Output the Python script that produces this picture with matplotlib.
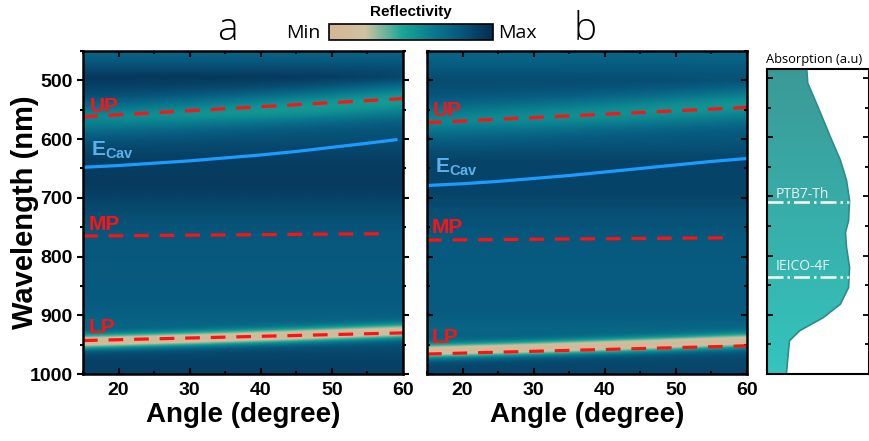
import numpy as np
import matplotlib
matplotlib.use("Agg")
import matplotlib.pyplot as plt
from matplotlib.colors import LinearSegmentedColormap
from matplotlib.patches import Polygon
from matplotlib.ticker import MultipleLocator

plt.rcParams['font.family'] = ['Liberation Sans', 'DejaVu Sans']
plt.rcParams['mathtext.fontset'] = 'custom'
plt.rcParams['mathtext.rm'] = 'Liberation Sans'
plt.rcParams['mathtext.bf'] = 'Liberation Sans:bold'

# reflectivity colour scale (Min -> Max)
cmap = LinearSegmentedColormap.from_list("refl", [
	(0.00, "#d4b694"),
	(0.22, "#cfc2a2"),
	(0.45, "#17a695"),
	(0.62, "#0a7d8f"),
	(0.78, "#075b80"),
	(1.00, "#062c50"),
])

# ---------------- data ----------------
BAND_ANGLES = [15, 30, 45, 60]

# panel a: background reflectivity vs wavelength
BG_WL_A = [450, 470, 495, 520, 560, 600, 640, 680, 720, 760, 800, 880, 915, 960, 980, 1000]
BG_A = [0.72, 0.80, 0.94, 0.88, 0.80, 0.84, 0.92, 0.93, 0.86, 0.80, 0.79, 0.78, 0.74, 0.86, 0.90, 0.90]
UP_BAND_A = [566, 556, 545, 532]
UP_DEPTH_A = [0.22, 0.27, 0.32, 0.36]
LP_BAND_A = [946, 941, 935, 928]
LP_DEPTH_A = [0.74, 0.73, 0.71, 0.66]

# panel b
BG_WL_B = [450, 470, 500, 530, 570, 610, 640, 690, 730, 770, 820, 890, 925, 975, 990, 1000]
BG_B = [0.72, 0.76, 0.85, 0.82, 0.78, 0.82, 0.89, 0.89, 0.83, 0.79, 0.78, 0.78, 0.73, 0.86, 0.88, 0.88]
UP_BAND_B = [570, 562, 552, 541]
UP_DEPTH_B = [0.20, 0.23, 0.26, 0.29]
LP_BAND_B = [962, 957, 951, 944]
LP_DEPTH_B = [0.74, 0.73, 0.72, 0.68]

# polariton / cavity dispersions
UP_A_ANG, UP_A_WL = [15, 60], [562, 531]
MP_A_ANG, MP_A_WL = [15, 58], [765, 761]
LP_A_ANG, LP_A_WL = [15, 60], [943, 930]
ECAV_A_ANG = [15, 20, 25, 30, 35, 40, 45, 50, 55, 59]
ECAV_A_WL = [648, 645, 641, 637, 632, 627, 621, 614, 607, 601]

UP_B_ANG, UP_B_WL = [15, 60], [572, 546]
MP_B_ANG, MP_B_WL = [15, 58], [772, 768]
LP_B_ANG, LP_B_WL = [15, 60], [966, 952]
ECAV_B_ANG = [15, 20, 25, 30, 35, 40, 45, 50, 55, 60]
ECAV_B_WL = [679, 676, 672, 667, 662, 656, 650, 644, 638, 633]

# absorption spectrum of the blend
ABS_WL = [485, 509, 549, 599, 639, 673, 707, 741, 761, 786, 820, 854, 882, 905, 927, 944, 1000]
ABS_VAL = [0.39, 0.40, 0.50, 0.62, 0.72, 0.78, 0.81, 0.80, 0.77, 0.78, 0.81, 0.80, 0.72, 0.55, 0.32, 0.22, 0.19]
PTB7_WL = 710
IEICO_WL = 836


def refl_map(bg_wl, bg, up_c, up_d, lp_c, lp_d):
	ang = np.linspace(15, 60, 91)
	wl = np.linspace(450, 1000, 551)
	A, W = np.meshgrid(ang, wl)
	Z = np.interp(W, bg_wl, bg)
	for c, d, w in [(up_c, up_d, 29.0), (lp_c, lp_d, 12.5)]:
		cc = np.interp(A, BAND_ANGLES, c)
		dd = np.interp(A, BAND_ANGLES, d)
		Z = Z - dd * np.exp(-((W - cc) / w) ** 2)
	return ang, wl, np.clip(Z, 0, 1)


fig = plt.figure(figsize=(8.7, 4.41), dpi=100)

RED = "#ff1212"
BLUE = "#1b9cff"
LBLUE = "#5cb2ec"
dash = dict(color=RED, lw=2.3, dashes=(4.6, 3.4))

panels = [
	([0.0954, 0.1519, 0.3678, 0.7324], (BG_WL_A, BG_A, UP_BAND_A, UP_DEPTH_A, LP_BAND_A, LP_DEPTH_A),
	 (UP_A_ANG, UP_A_WL), (MP_A_ANG, MP_A_WL), (LP_A_ANG, LP_A_WL), (ECAV_A_ANG, ECAV_A_WL),
	 [(16.0, 553, "UP"), (16.1, 628, None), (15.8, 755, "MP"), (15.8, 931, "LP")], True),
	([0.4908, 0.1519, 0.3678, 0.7324], (BG_WL_B, BG_B, UP_BAND_B, UP_DEPTH_B, LP_BAND_B, LP_DEPTH_B),
	 (UP_B_ANG, UP_B_WL), (MP_B_ANG, MP_B_WL), (LP_B_ANG, LP_B_WL), (ECAV_B_ANG, ECAV_B_WL),
	 [(15.85, 560, "UP"), (16.1, 656, None), (15.7, 760, "MP"), (15.7, 947, "LP")], False),
]

for rect, mapdata, up, mp, lp, ecav, labels, first in panels:
	ax = fig.add_axes(rect)
	ang, wl, Z = refl_map(*mapdata)
	ax.pcolormesh(ang, wl, Z, cmap=cmap, vmin=0, vmax=1, shading="gouraud", rasterized=True)
	ax.plot(*up, **dash)
	ax.plot(*mp, **dash)
	ax.plot(*lp, **dash)
	ax.plot(*ecav, color=BLUE, lw=2.3)
	for x, y, s in labels:
		if s is None:
			ax.text(x, y, r"$\mathbf{E}_{\mathbf{Cav}}$", color=LBLUE, fontsize=15, ha="left", va="baseline")
		else:
			ax.text(x, y, s, color=RED, fontsize=15, fontweight="bold", ha="left", va="baseline")
	ax.set_xlim(15, 60)
	ax.set_ylim(1000, 450)
	ax.xaxis.set_major_locator(MultipleLocator(10))
	ax.xaxis.set_minor_locator(MultipleLocator(5))
	ax.yaxis.set_major_locator(MultipleLocator(100))
	ax.yaxis.set_minor_locator(MultipleLocator(50))
	ax.tick_params(which="both", top=True, right=True, direction="in", width=1.5)
	ax.tick_params(which="major", length=4.5)
	ax.tick_params(which="minor", length=2.5)
	ax.tick_params(axis="x", labelsize=14, pad=6)
	for t in ax.get_xticklabels():
		t.set_fontweight("bold")
	if first:
		ax.tick_params(axis="y", which="both", left=True, direction="out", labelsize=14, pad=3)
		ax.tick_params(axis="y", which="both", right=True)
		for t in ax.get_yticklabels():
			t.set_fontweight("bold")
		ax.set_ylabel("Wavelength (nm)", fontsize=21, fontweight="bold")
		ax.yaxis.set_label_coords(-0.137, 0.5)
	else:
		ax.set_yticklabels([])
	ax.set_xlabel("Angle (degree)", fontsize=20, fontweight="bold", labelpad=2)
	for s in ax.spines.values():
		s.set_linewidth(1.8)

# absorption panel
ax3 = fig.add_axes([0.8816, 0.1519, 0.1172, 0.6916])
ax3.set_xlim(0, 1)
ax3.set_ylim(1000, 485)
verts = [(0, ABS_WL[0])] + list(zip(ABS_VAL, ABS_WL)) + [(0, ABS_WL[-1])]
poly = Polygon(verts, closed=True, facecolor="none", edgecolor="none")
ax3.add_patch(poly)
grad = LinearSegmentedColormap.from_list("absfill", ["#3b9a97", "#34c4be"])
im = ax3.imshow(np.linspace(0, 1, 100).reshape(-1, 1), cmap=grad, aspect="auto",
				extent=(0, 1, 1000, 485), origin="upper")
im.set_clip_path(poly)
ax3.plot(ABS_VAL, ABS_WL, color="#2a8d89", lw=1.2)
line_end_ptb = np.interp(PTB7_WL, ABS_WL, ABS_VAL)
line_end_iei = np.interp(IEICO_WL, ABS_WL, ABS_VAL)
ax3.plot([0, line_end_ptb], [PTB7_WL, PTB7_WL], color="white", lw=1.8, ls="-.")
ax3.plot([0, line_end_iei], [IEICO_WL, IEICO_WL], color="white", lw=1.8, ls="-.")
ax3.text(0.08, PTB7_WL - 8, "PTB7-Th", color="#eaf6f5", fontsize=10, family=["Open Sans", "DejaVu Sans"],
		 ha="left", va="baseline")
ax3.text(0.08, IEICO_WL - 12, "IEICO-4F", color="#eaf6f5", fontsize=10, family=["Open Sans", "DejaVu Sans"],
		 ha="left", va="baseline")
ax3.set_xticks([])
ax3.yaxis.set_major_locator(MultipleLocator(100))
ax3.yaxis.set_minor_locator(MultipleLocator(50))
ax3.tick_params(axis="y", which="both", left=True, right=True, direction="in", labelleft=False, width=1.3)
ax3.tick_params(axis="y", which="major", length=4)
ax3.tick_params(axis="y", which="minor", length=3)
for s in ax3.spines.values():
	s.set_linewidth(1.5)
fig.text(766 / 870, 1 - 63 / 441, "Absorption (a.u)", fontsize=9.3, family=["Open Sans", "DejaVu Sans"],
		 ha="left", va="baseline")

# colour bar
cax = fig.add_axes([329 / 870, 1 - 40 / 441, 164 / 870, 16 / 441])
sm = plt.cm.ScalarMappable(cmap=cmap, norm=plt.Normalize(0, 1))
cb = fig.colorbar(sm, cax=cax, orientation="horizontal")
cb.set_ticks([])
cb.outline.set_linewidth(1.2)
fig.text(411 / 870, 1 - 16 / 441, "Reflectivity", fontsize=11, fontweight="bold", ha="center", va="baseline")
fig.text(321 / 870, 1 - 38 / 441, "Min", fontsize=14, family=["Open Sans", "DejaVu Sans"], ha="right", va="baseline")
fig.text(498 / 870, 1 - 38 / 441, "Max", fontsize=14, family=["Open Sans", "DejaVu Sans"], ha="left", va="baseline")

# panel letters
fig.text(227 / 870, 1 - 40 / 441, "a", fontsize=28, family=["Open Sans", "DejaVu Sans"], fontweight="light",
		 ha="center", va="baseline")
fig.text(585 / 870, 1 - 40 / 441, "b", fontsize=28, family=["Open Sans", "DejaVu Sans"], fontweight="light",
		 ha="center", va="baseline")

fig.savefig("out.png", dpi=100)
